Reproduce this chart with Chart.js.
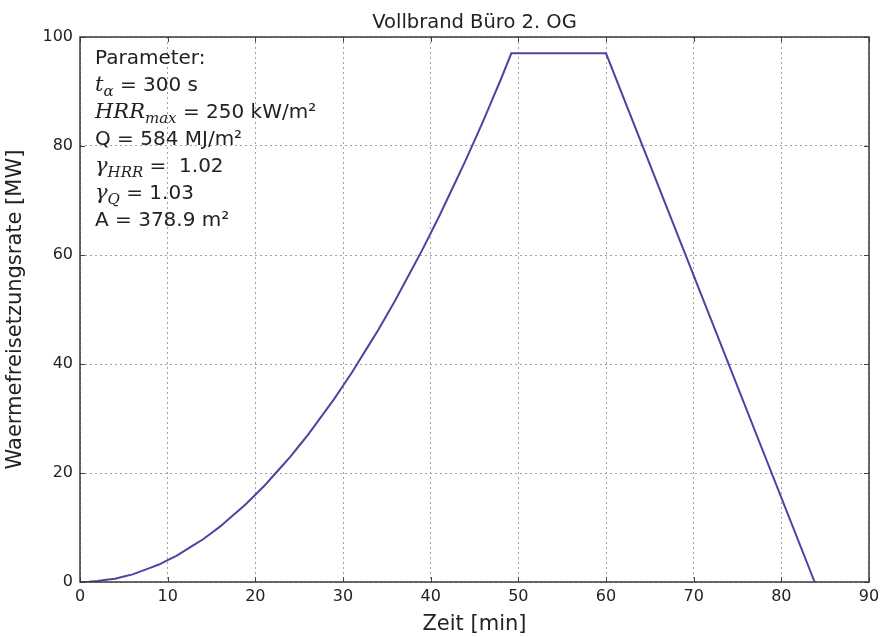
<!DOCTYPE html>
<html>
<head>
<meta charset="utf-8">
<script src="https://cdn.jsdelivr.net/npm/chart.js@4.4.1/dist/chart.umd.min.js"></script>
<style>
  body { margin: 0; background: #fff; }
  #wrap { width: 881px; height: 637px; }
</style>
</head>
<body>
<div id="wrap"><canvas id="hrr-chart" width="881" height="637"></canvas></div>
<script>
// values
const timeMin = [0, 1, 2, 3, 4, 5, 6, 7, 8, 9, 10, 11, 12, 13, 14, 15, 16, 17, 18, 19, 20, 21, 22, 23, 24, 25,
    26, 27, 28, 29, 30, 31, 32, 33, 34, 35, 36, 37, 38, 39, 40, 41, 42, 43, 44, 45, 46, 47, 48, 49.2, 60, 83.8];
const hrrMW = [0, 0.04, 0.2, 0.4, 0.6, 1.0, 1.4, 2.0, 2.6, 3.2, 4.0, 4.8, 5.8, 6.8, 7.8, 9.0, 10.2, 11.6, 13.0, 14.4, 16.0, 17.6, 19.4, 21.2, 23.0, 25.0,
    27.0, 29.2, 31.4, 33.6, 36.0, 38.4, 41.0, 43.6, 46.2, 49.0, 51.8, 54.8, 57.8, 60.8, 64.0, 67.2, 70.6, 74.0, 77.4, 81.0, 84.6, 88.4, 92.2, 97.0, 97.0, 0];
const xTicks = [0, 10, 20, 30, 40, 50, 60, 70, 80, 90];
const yTicks = [0, 20, 40, 60, 80, 100];

const titleText = 'Vollbrand Büro 2. OG';

// parameter box, each line is a list of runs: [text, kind]
// kind: 's' = normal sans, 'm' = math italic, 'sub' = math subscript
const paramLines = [
    [['Parameter:', 's']],
    [['t', 'm'], ['α', 'sub'], [' = 300 s', 's']],
    [['HRR', 'm'], ['max', 'sub'], [' = 250 kW/m²', 's']],
    [['Q = 584 MJ/m²', 's']],
    [['γ', 'm'], ['HRR', 'sub'], [' =  1.02', 's']],
    [['γ', 'm'], ['Q', 'sub'], [' = 1.03', 's']],
    [['A = 378.9 m²', 's']]
];

let points = timeMin.map((t, i) => ({ x: t, y: hrrMW[i] }));

// frame, inward ticks, title and the parameter text
const extrasPlugin = {
    id: 'extras',
    afterDatasetsDraw(chart) {
        let ctx = chart.ctx;
        let area = chart.chartArea;
        let xs = chart.scales.x;
        let ys = chart.scales.y;
        ctx.save();

        // tick marks pointing inward on all four sides
        ctx.strokeStyle = '#444';
        ctx.lineWidth = 1;
        ctx.beginPath();
        xTicks.forEach(v => {
            let px = Math.round(xs.getPixelForValue(v)) + 0.5;
            ctx.moveTo(px, area.bottom); ctx.lineTo(px, area.bottom - 5);
            ctx.moveTo(px, area.top); ctx.lineTo(px, area.top + 5);
        });
        yTicks.forEach(v => {
            let py = Math.round(ys.getPixelForValue(v)) + 0.5;
            ctx.moveTo(area.left, py); ctx.lineTo(area.left + 5, py);
            ctx.moveTo(area.right, py); ctx.lineTo(area.right - 5, py);
        });
        ctx.stroke();

        // frame
        ctx.strokeStyle = '#3a3a3a';
        ctx.lineWidth = 1.5;
        ctx.strokeRect(area.left, area.top, area.right - area.left, area.bottom - area.top);

        // title
        ctx.fillStyle = '#222';
        ctx.font = '19.5px "DejaVu Sans"';
        ctx.textAlign = 'center';
        ctx.textBaseline = 'alphabetic';
        ctx.fillText(titleText, (area.left + area.right) / 2, 28);

        // parameter block
        ctx.textAlign = 'left';
        let baseY = 64;
        paramLines.forEach(line => {
            let x = 95;
            line.forEach(([txt, kind]) => {
                let dy = 0;
                if (kind === 's') ctx.font = '20px "DejaVu Sans"';
                else if (kind === 'm') ctx.font = 'italic 21px "DejaVu Serif"';
                else { ctx.font = 'italic 15px "DejaVu Serif"'; dy = 5; }
                ctx.fillText(txt, x, baseY + dy);
                x += ctx.measureText(txt).width;
            });
            baseY += 27;
        });
        ctx.restore();
    }
};

let gridStyle = {
    color: '#a0a0a0',
    lineWidth: 1,
    drawTicks: false
};

let chart = new Chart(document.getElementById('hrr-chart').getContext('2d'), {
    type: 'line',
    data: {
        datasets: [{
            data: points,
            borderColor: '#4a46a0',
            borderWidth: 2,
            pointRadius: 0,
            tension: 0,
            fill: false
        }]
    },
    options: {
        responsive: false,
        animation: false,
        layout: { padding: { top: 37, right: 12, bottom: 0, left: 0 } },
        plugins: {
            legend: { display: false },
            title: { display: false },
            tooltip: { enabled: false }
        },
        scales: {
            x: {
                type: 'linear',
                min: 0,
                max: 90,
                afterBuildTicks: s => { s.ticks = xTicks.map(v => ({ value: v })); },
                afterFit: s => { s.height = 55; s.paddingLeft = 0; s.paddingRight = 0; },
                grid: gridStyle,
                border: { display: false, dash: [2, 3] },
                ticks: { color: '#222', padding: 5, font: { family: 'DejaVu Sans', size: 16 } },
                title: {
                    display: true,
                    text: 'Zeit [min]',
                    color: '#222',
                    padding: { top: 0, bottom: 0 },
                    font: { family: 'DejaVu Sans', size: 21 }
                }
            },
            y: {
                min: 0,
                max: 100,
                afterBuildTicks: s => { s.ticks = yTicks.map(v => ({ value: v })); },
                afterFit: s => { s.width = 80; s.paddingTop = 0; s.paddingBottom = 0; },
                grid: gridStyle,
                border: { display: false, dash: [2, 3] },
                ticks: { color: '#222', padding: 7, font: { family: 'DejaVu Sans', size: 16 } },
                title: {
                    display: true,
                    text: 'Waermefreisetzungsrate [MW]',
                    color: '#222',
                    padding: { top: 3, bottom: 0 },
                    font: { family: 'DejaVu Sans', size: 21 }
                }
            }
        }
    },
    plugins: [extrasPlugin]
});
</script>
</body>
</html>
